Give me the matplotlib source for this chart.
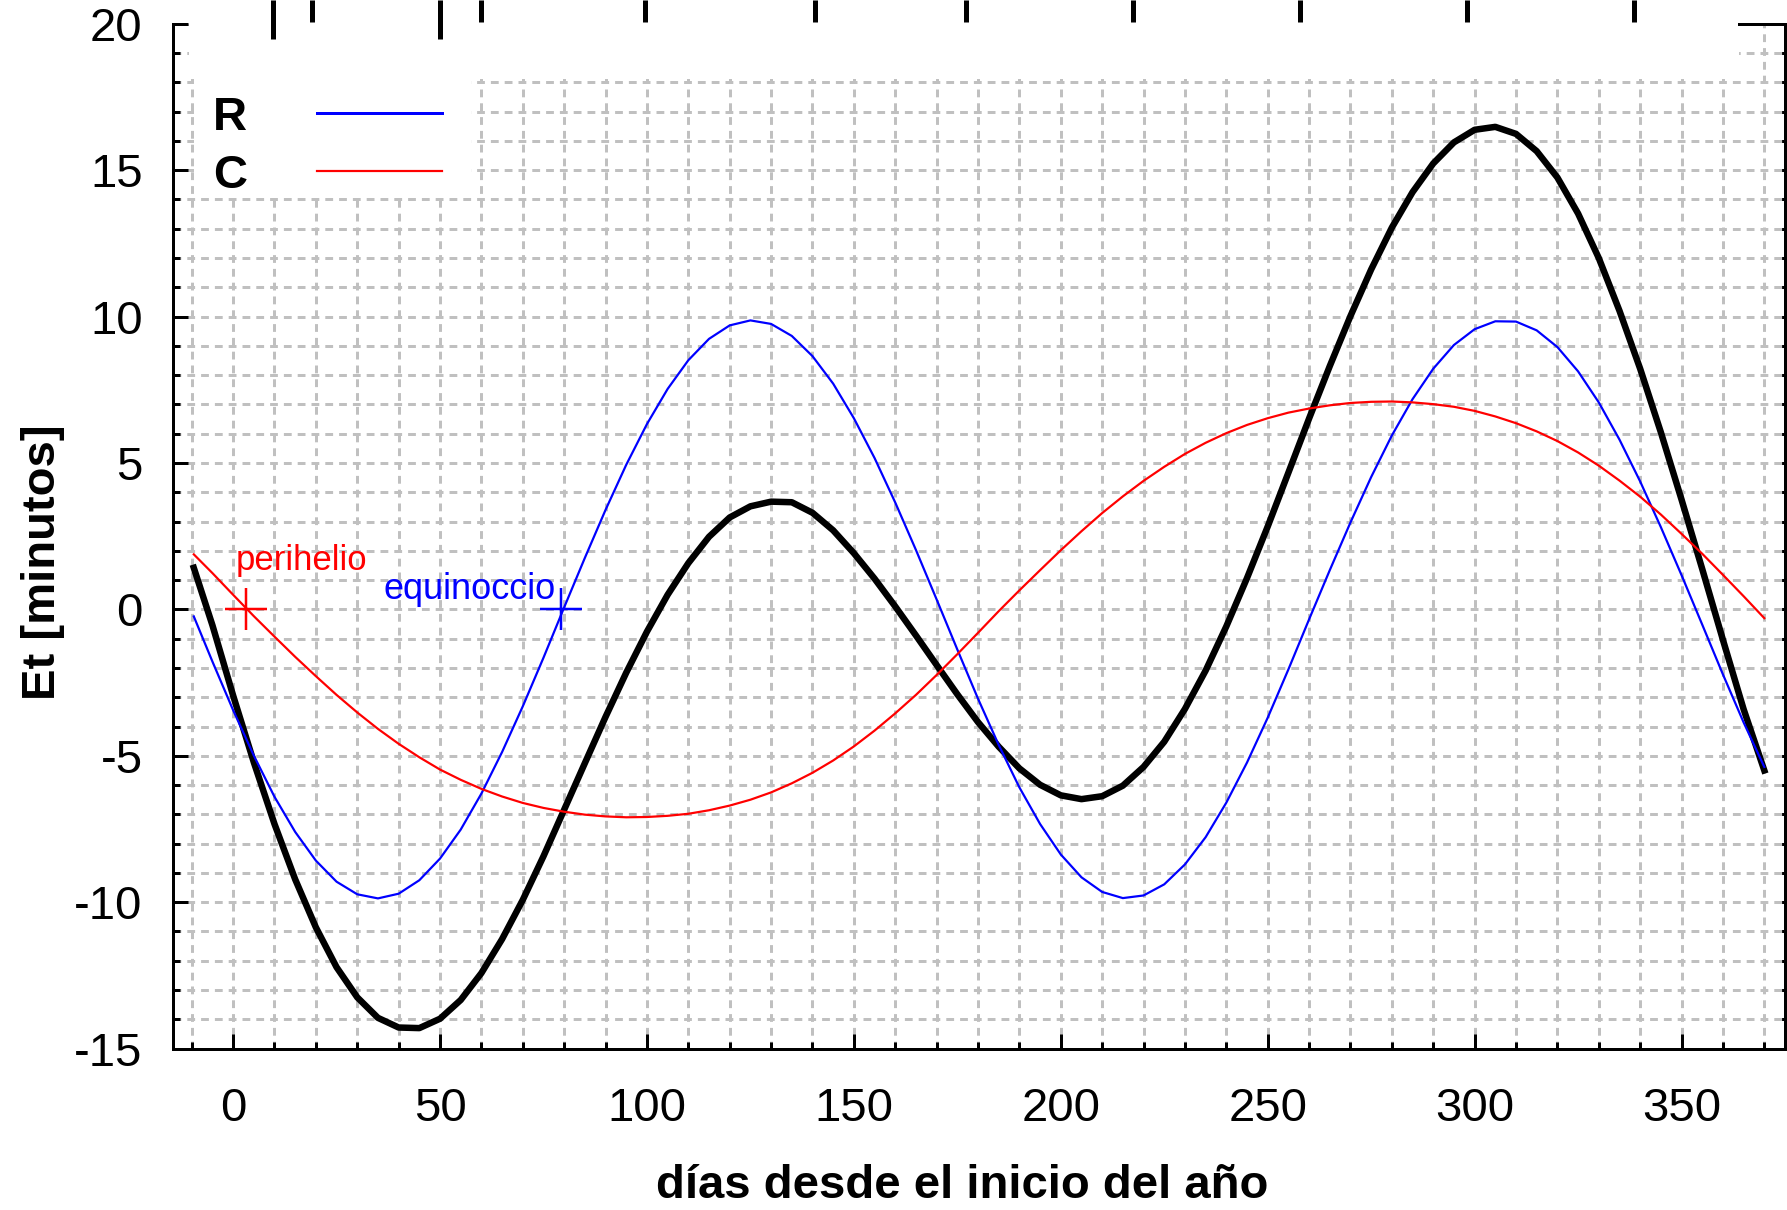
import matplotlib
matplotlib.use('Agg')
import matplotlib.pyplot as plt
from matplotlib.patches import Rectangle
from matplotlib.ticker import MultipleLocator, FixedLocator, NullLocator
from matplotlib.lines import Line2D

plt.rcParams['font.family'] = ['Liberation Sans', 'DejaVu Sans']
plt.rcParams['axes.unicode_minus'] = False

# ---------------- data ----------------
days = [-9.5, -5, 0, 5, 10, 15, 20, 25, 30, 35, 40, 45, 50, 55, 60, 65, 70, 75,
        80, 85, 90, 95, 100, 105, 110, 115, 120, 125, 130, 135, 140, 145, 150,
        155, 160, 165, 170, 175, 180, 185, 190, 195, 200, 205, 210, 215, 220,
        225, 230, 235, 240, 245, 250, 255, 260, 265, 270, 275, 280, 285, 290,
        295, 300, 305, 310, 315, 320, 325, 330, 335, 340, 345, 350, 355, 360,
        365, 370]

R_vals = [-0.24, -1.78, -3.44, -4.99, -6.40, -7.60, -8.58, -9.30, -9.73, -9.87,
          -9.71, -9.25, -8.51, -7.52, -6.29, -4.87, -3.31, -1.65,
          0.07, 1.76, 3.40, 4.94, 6.33, 7.53, 8.51, 9.24, 9.70, 9.87, 9.75,
          9.34, 8.65, 7.71, 6.53, 5.17, 3.65, 2.03, 0.34,
          -1.37, -3.05, -4.63, -6.08, -7.33, -8.37, -9.15, -9.65, -9.86, -9.77,
          -9.39, -8.71, -7.78, -6.60, -5.23, -3.70, -2.05, -0.34,
          1.34, 2.97, 4.52, 5.94, 7.18, 8.22, 9.03, 9.57, 9.84, 9.83, 9.53,
          8.96, 8.13, 7.07, 5.80, 4.37, 2.81, 1.17,
          -0.52, -2.22, -3.86, -5.38]

C_vals = [1.88, 1.24, 0.50, -0.23, -0.93, -1.62, -2.28, -2.92, -3.52, -4.08,
          -4.59, -5.05, -5.47, -5.82, -6.13, -6.39, -6.61, -6.78,
          -6.91, -7.01, -7.07, -7.10, -7.09, -7.05, -6.98, -6.86, -6.70, -6.50,
          -6.25, -5.94, -5.58, -5.16, -4.68, -4.14, -3.55, -2.92, -2.24,
          -1.53, -0.80, -0.06, 0.65, 1.34, 2.02, 2.67, 3.29, 3.86, 4.39,
          4.87, 5.31, 5.69, 6.02, 6.30, 6.53, 6.72, 6.86,
          6.97, 7.05, 7.09, 7.10, 7.07, 7.01, 6.92, 6.78, 6.59, 6.36, 6.08,
          5.75, 5.36, 4.91, 4.40, 3.85, 3.24, 2.58,
          1.90, 1.18, 0.45, -0.30]

Et_vals = [1.42, -0.54, -2.94, -5.22, -7.33, -9.22, -10.86, -12.22, -13.25, -13.95,
           -14.28, -14.30, -13.98, -13.34, -12.42, -11.26, -9.92, -8.43,
           -6.84, -5.25, -3.67, -2.16, -0.76, 0.50, 1.58, 2.48, 3.14, 3.52,
           3.68, 3.66, 3.30, 2.70, 1.92, 1.05, 0.10, -0.89, -1.90,
           -2.90, -3.85, -4.69, -5.43, -5.99, -6.35, -6.48, -6.38, -6.02, -5.38,
           -4.52, -3.40, -2.09, -0.58, 1.07, 2.83, 4.67, 6.52,
           8.31, 10.02, 11.61, 13.04, 14.25, 15.23, 15.95, 16.38, 16.48, 16.24, 15.65,
           14.75, 13.52, 12.00, 10.20, 8.22, 6.05, 3.75,
           1.38, -1.04, -3.41, -5.50]

perihelion = (3.2, 0.0)
equinox = (79.3, 0.0)
legend_labels = ['R', 'C']
xtick_vals = [0, 50, 100, 150, 200, 250, 300, 350]
ytick_vals = [-15, -10, -5, 0, 5, 10, 15, 20]
top_long_ticks = [9.6, 50.0]
top_short_ticks = [19.1, 59.9, 99.5, 140.6, 177.1, 217.4, 257.8, 298.2, 338.5]

# ---------------- figure ----------------
W, H, DPI = 1787, 1210, 100
PX = 72.0 / DPI
fig = plt.figure(figsize=(W / DPI, H / DPI), dpi=DPI)
fig.patch.set_facecolor('white')

L, R_, T, B = 173.1, 1785.0, 23.8, 1048.6
ax = fig.add_axes([L / W, 1 - B / H, (R_ - L) / W, (B - T) / H])
ax.set_xlim(-14.5, 375)
ax.set_ylim(-15, 20)

for s in ['left', 'bottom', 'right', 'top']:
    ax.spines[s].set_linewidth(3 * PX)
ax.spines['top'].set_bounds(364, 375)

ax.xaxis.set_major_locator(FixedLocator(xtick_vals))
ax.xaxis.set_minor_locator(MultipleLocator(10))
ax.yaxis.set_major_locator(FixedLocator(ytick_vals))
ax.yaxis.set_minor_locator(MultipleLocator(1))

ax.tick_params(which='both', direction='in', top=False, right=False, width=3 * PX)
ax.tick_params(which='major', length=15 * PX, labelsize=34)
ax.tick_params(which='minor', length=7 * PX)
ax.tick_params(axis='x', which='major', pad=28)
ax.tick_params(axis='y', which='major', pad=22)

sec = ax.secondary_yaxis('right')
sec.yaxis.set_major_locator(MultipleLocator(1))
sec.yaxis.set_minor_locator(NullLocator())
sec.tick_params(direction='in', length=10 * PX, width=3 * PX, labelright=False)
sec.spines['right'].set_linewidth(3 * PX)

ax.set_axisbelow(True)
ax.grid(which='both', color='#c0c0c0', linestyle=(0, (2.6, 2.0)), linewidth=3 * PX)

# white areas without grid
ax.add_patch(Rectangle((-10.6, 18.12), 374.5, 3, facecolor='white',
                       edgecolor='none', zorder=1))
ax.add_patch(Rectangle((-9.4, 14.12), 66.9, 4.5, facecolor='white',
                       edgecolor='none', zorder=1))

# curves
ax.plot(days, Et_vals, color='black', lw=6.5 * PX, zorder=3,
        solid_joinstyle='round')
ax.plot(days, R_vals, color='#0000ff', lw=2.2 * PX, zorder=4)
ax.plot(days, C_vals, color='#ff0000', lw=2.2 * PX, zorder=5)

ax.plot([perihelion[0]], [perihelion[1]], marker='+', ms=43 * PX, mew=2.5 * PX,
        color='#ff0000', ls='none', zorder=6)
ax.plot([equinox[0]], [equinox[1]], marker='+', ms=43 * PX, mew=2.5 * PX,
        color='#0000ff', ls='none', zorder=6)
ax.text(0.6, 1.36, 'perihelio', color='#ff0000', fontsize=25, va='baseline',
        ha='left', zorder=7)
ax.text(36.4, 0.37, 'equinoccio', color='#0000ff', fontsize=26, va='baseline',
        ha='left', zorder=7)

hR = Line2D([], [], color='#0000ff', lw=3 * PX)
hC = Line2D([], [], color='#ff0000', lw=2.2 * PX)
ax.legend([hR, hC], legend_labels, markerfirst=False, frameon=False,
          prop={'weight': 'bold', 'size': 34}, handlelength=2.65,
          handletextpad=1.48, labelspacing=0.29, borderpad=0, borderaxespad=0,
          loc='upper left', bbox_to_anchor=(213 / W, 1 - 96 / H),
          bbox_transform=fig.transFigure)

ax.set_xlabel('días desde el inicio del año', fontsize=34, fontweight='bold')
ax.xaxis.set_label_coords(0.4894, -0.1126)
ax.set_ylabel('Et [minutos]', fontsize=34, fontweight='bold')
ax.yaxis.set_label_coords(-0.0671, 0.4748)

# stray tick marks along the top edge
axt = fig.add_axes([L / W, 1 - 40 / H, (R_ - L) / W, 40 / H])
axt.set_xlim(-14.5, 375)
axt.set_ylim(0, 1)
axt.patch.set_visible(False)
for s in axt.spines.values():
    s.set_visible(False)
axt.set_yticks([])
axt.xaxis.set_ticks_position('top')
axt.set_xticks(top_long_ticks)
axt.set_xticks(top_short_ticks, minor=True)
axt.tick_params(which='both', direction='in', width=5 * PX, labeltop=False,
                labelbottom=False)
axt.tick_params(which='major', length=39 * PX)
axt.tick_params(which='minor', length=22 * PX)

fig.savefig('out.png', dpi=DPI)
